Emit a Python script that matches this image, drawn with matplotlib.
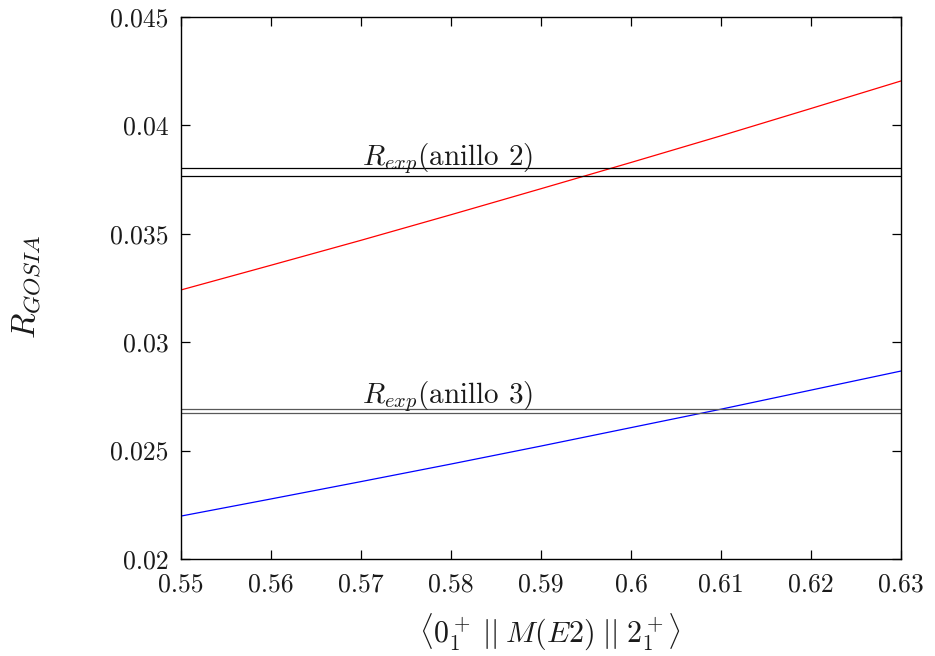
import matplotlib
matplotlib.use("Agg")
import matplotlib.pyplot as plt
from matplotlib.ticker import FuncFormatter, MultipleLocator

plt.rcParams['font.family'] = 'serif'
plt.rcParams['font.serif'] = ['cmr10']
plt.rcParams['mathtext.fontset'] = 'cm'
plt.rcParams['axes.formatter.use_mathtext'] = True

# Matrix element values (x) and computed GOSIA ratios
me_values = [0.55, 0.56, 0.57, 0.58, 0.59, 0.60, 0.61, 0.62, 0.63]
r_gosia_ring2 = [0.03241, 0.03355, 0.03470, 0.03588, 0.03708, 0.03829, 0.03952, 0.04078, 0.04205]
r_gosia_ring3 = [0.02198, 0.02277, 0.02357, 0.02438, 0.02521, 0.02606, 0.02691, 0.02779, 0.02867]

# Experimental ratio bands (lower, upper)
r_exp_ring2 = [0.03765, 0.03802]
r_exp_ring3 = [0.02675, 0.02690]
labels = [r'$R_{exp}$(anillo 2)', r'$R_{exp}$(anillo 3)']
label_x = 0.5701

fig = plt.figure(figsize=(9.35, 6.56), dpi=100)
ax = fig.add_axes([181/935, 1 - 559/656, 720/935, 542/656])

ax.plot(me_values, r_gosia_ring2, color='red', lw=0.9)
ax.plot(me_values, r_gosia_ring3, color='blue', lw=0.9)

for v in r_exp_ring2:
    ax.axhline(v, color='black', lw=0.9)
for v in r_exp_ring3:
    ax.axhline(v, color='0.35', lw=0.9)

ax.text(label_x, 0.03817, labels[0], fontsize=21, va='baseline', ha='left', color='0.1')
ax.text(label_x, 0.02718, labels[1], fontsize=21, va='baseline', ha='left', color='0.1')

ax.set_xlim(0.55, 0.63)
ax.set_ylim(0.02, 0.045)
ax.xaxis.set_major_locator(MultipleLocator(0.01))
ax.yaxis.set_major_locator(MultipleLocator(0.005))
fmt = FuncFormatter(lambda v, p: '%g' % round(v, 4))
ax.xaxis.set_major_formatter(fmt)
ax.yaxis.set_major_formatter(fmt)
ax.tick_params(direction='in', top=True, right=True, length=6.5, width=0.9,
               labelsize=18.5, labelcolor='0.1')
ax.tick_params(axis='x', pad=10)
ax.tick_params(axis='y', pad=9)
for s in ax.spines.values():
    s.set_linewidth(1.0)

ax.set_xlabel(r'$\langle 0_1^+ \;||\; M(E2) \;||\; 2_1^+ \rangle$', fontsize=21.5,
              va='center', color='0.1')
ax.xaxis.set_label_coords(0.512, -0.1347)
ax.set_ylabel(r'$R_{GOSIA}$', fontsize=24, va='center', color='0.1')
ax.yaxis.set_label_coords(-0.2139, 0.502)

fig.savefig('out.png', dpi=100)
